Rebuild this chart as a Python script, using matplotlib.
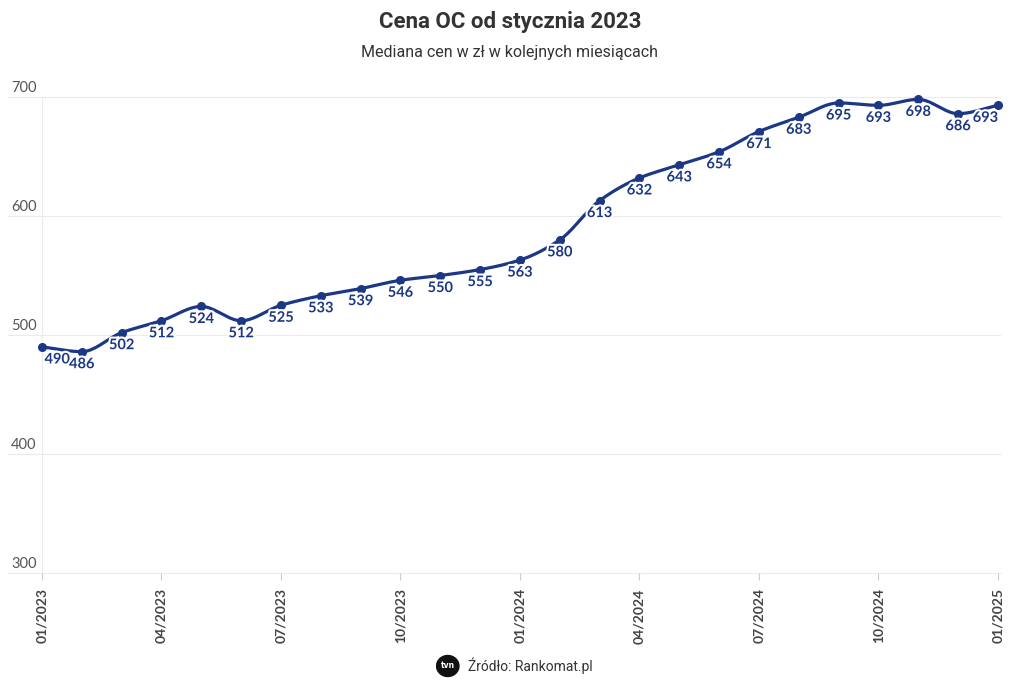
import numpy as np
import matplotlib
matplotlib.use("Agg")
import matplotlib.pyplot as plt
import matplotlib.patheffects as pe
from matplotlib.transforms import blended_transform_factory
from matplotlib.patches import Ellipse

months = ["01/2023", "02/2023", "03/2023", "04/2023", "05/2023", "06/2023", "07/2023",
          "08/2023", "09/2023", "10/2023", "11/2023", "12/2023", "01/2024", "02/2024",
          "03/2024", "04/2024", "05/2024", "06/2024", "07/2024", "08/2024", "09/2024",
          "10/2024", "11/2024", "12/2024", "01/2025"]
values = [490, 486, 502, 512, 524, 512, 525, 533, 539, 546, 550, 555, 563, 580,
          613, 632, 643, 654, 671, 683, 695, 693, 698, 686, 693]
yticks = [300, 400, 500, 600, 700]

title = "Cena OC od stycznia 2023"
subtitle = "Mediana cen w zł w kolejnych miesiącach"
source = "Źródło: Rankomat.pl"

COL = "#1c3885"
W, H = 1020, 693


def monotone(x, y, n=20):
    x = np.asarray(x, float); y = np.asarray(y, float)
    h = np.diff(x); d = np.diff(y) / h
    m = np.zeros_like(y)
    m[0] = d[0]; m[-1] = d[-1]
    for i in range(1, len(y) - 1):
        if d[i - 1] * d[i] <= 0:
            m[i] = 0
        else:
            m[i] = 3 * (h[i - 1] + h[i]) / ((2 * h[i] + h[i - 1]) / d[i - 1] + (h[i] + 2 * h[i - 1]) / d[i])
    xs, ys = [], []
    for i in range(len(h)):
        t = np.linspace(0, 1, n, endpoint=False)
        h00 = 2 * t**3 - 3 * t**2 + 1; h10 = t**3 - 2 * t**2 + t
        h01 = -2 * t**3 + 3 * t**2; h11 = t**3 - t**2
        xs.append(x[i] + t * h[i])
        ys.append(h00 * y[i] + h10 * h[i] * m[i] + h01 * y[i + 1] + h11 * h[i] * m[i + 1])
    xs.append([x[-1]]); ys.append([y[-1]])
    return np.concatenate(xs), np.concatenate(ys)


fig = plt.figure(figsize=(W / 100, H / 100), dpi=100)
x0, x1 = 42, 998
yt, yb = 97, 573
ax = fig.add_axes([x0 / W, 1 - yb / H, (x1 - x0) / W, (yb - yt) / H])
ax.set_xlim(0, len(months) - 1)
ax.set_ylim(300, 700)
for s in ax.spines.values():
    s.set_visible(False)
ax.set_yticks([])

x = np.arange(len(months))
tr = blended_transform_factory(fig.transFigure, ax.transData)
for v in yticks:
    ax.plot([8 / W, 1000 / W], [v, v], transform=tr, color="#ebebeb", lw=0.8, clip_on=False, zorder=0)
    ax.text(11 / W, v + 2, str(v), transform=tr, fontsize=10.5, color="#555555",
            ha="left", va="bottom", family="Lato")
ax.plot([0, 0], [300, 700], color="#ebebeb", lw=0.8, clip_on=False, zorder=0)

xt = list(range(0, len(months), 3))
ax.set_xticks(xt)
ax.set_xticklabels([months[i] for i in xt], rotation=90, fontsize=10, color="#444444",
                   family="Lato", fontweight="bold")
ax.tick_params(axis="x", length=5, color="#cccccc", width=0.8, pad=6)

sx, sy = monotone(x, values)
ax.plot(sx, sy, color=COL, lw=2.3, clip_on=False, zorder=2, solid_capstyle="round")
ax.plot(x, values, "o", color=COL, ms=5.5, clip_on=False, zorder=3)

for i, v in enumerate(values):
    dx = 0
    if i == 0:
        dx = 11
    elif i == len(values) - 1:
        dx = -9
    ax.annotate(str(v), (i, v), xytext=(dx, -4), textcoords="offset points",
                ha="center", va="top", fontsize=10.5, fontweight="bold", color=COL,
                family="Lato", zorder=4,
                path_effects=[pe.withStroke(linewidth=3, foreground="white")])

fig.text(0.5, 1 - 22 / H, title, ha="center", va="center", fontsize=16,
         fontweight="bold", color="#333333", family="Roboto")
fig.text(0.5, 1 - 52 / H, subtitle, ha="center", va="center", fontsize=11.5,
         color="#333333", family="Roboto")

fig.text(468 / W, 1 - 666 / H, source, ha="left", va="center", fontsize=10,
         color="#333333", family="Roboto")
lax = fig.add_axes([436 / W, 1 - 680 / H, 28 / W, 28 / H])
lax.set_xlim(0, 1); lax.set_ylim(0, 1); lax.axis("off")
lax.add_patch(Ellipse((0.42, 0.5), 0.8, 0.75, color="#111111"))
lax.text(0.42, 0.5, "tvn", color="white", fontsize=5.5, fontweight="bold",
         ha="center", va="center")

fig.savefig("out.png", dpi=100, facecolor="white")
